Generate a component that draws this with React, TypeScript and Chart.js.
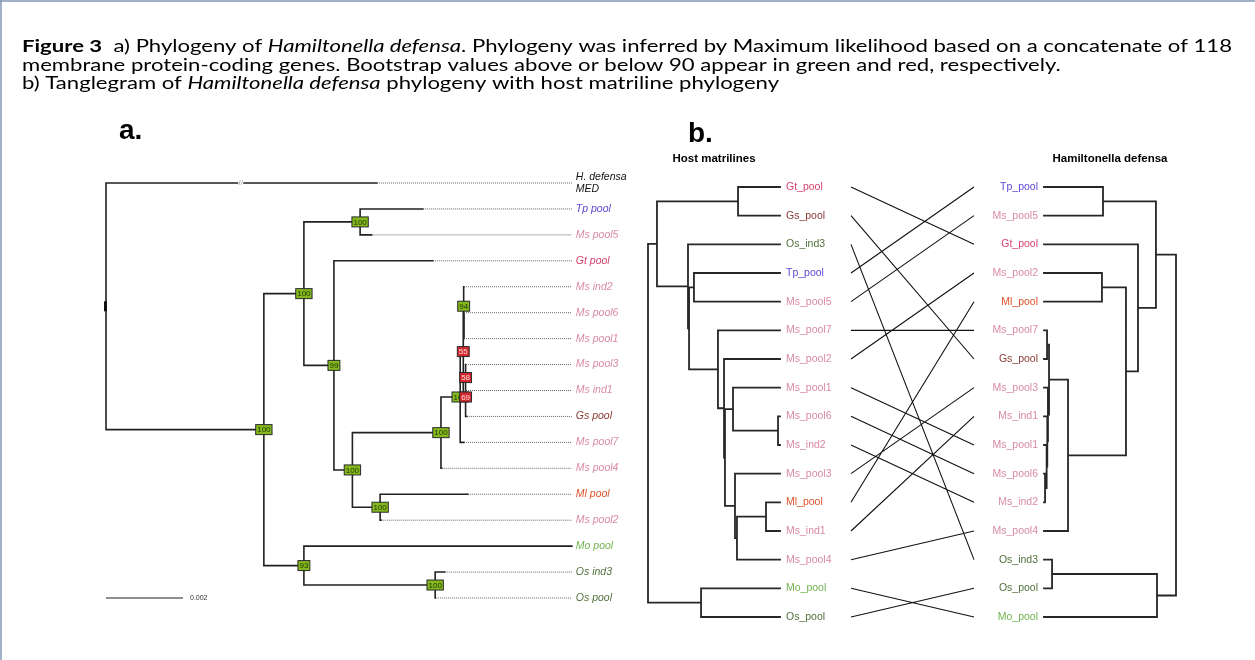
import React, { useEffect, useRef } from 'react';
import { Chart, registerables } from 'chart.js';
Chart.register(...registerables);

const W = 1255;
const H = 660;

// ---------------- Panel a: ML phylogeny of Hamiltonella defensa ----------------
const aTipLabels = ['H. defensa|MED', 'Tp pool', 'Ms pool5', 'Gt pool', 'Ms ind2', 'Ms pool6', 'Ms pool1', 'Ms pool3', 'Ms ind1', 'Gs pool', 'Ms pool7', 'Ms pool4', 'Ml pool', 'Ms pool2', 'Mo pool', 'Os ind3', 'Os pool'];
const aTipDepths = [0.00704, 0.00823, 0.0069, 0.00849, 0.0093, 0.0093, 0.0093, 0.00935, 0.00935, 0.00938, 0.0093, 0.00872, 0.0094, 0.00715, 0.0121, 0.0088, 0.00857];
const aNodeNames = ['root', 'A', 'B', 'C', 'D', 'E', 'F', 'G', 'Hn', 'H2', 'H3', 'H7', 'H5', 'H6', 'J', 'K'];
const aNodeDepths = [0, 0.0041, 0.00514, 0.0066, 0.00592, 0.0064, 0.0087, 0.00712, 0.0092, 0.00928, 0.00929, 0.0093, 0.00934, 0.00934, 0.00514, 0.00855];
const aNodeChildren = [
  ['H. defensa|MED', 'A'], ['B', 'J'], ['C', 'D'], ['Tp pool', 'Ms pool5'], ['Gt pool', 'E'], ['F', 'G'],
  ['Hn', 'Ms pool4'], ['Ml pool', 'Ms pool2'], ['H2', 'Ms pool7'], ['H3', 'H5'], ['Ms ind2', 'H7'],
  ['Ms pool6', 'Ms pool1'], ['H6', 'Gs pool'], ['Ms pool3', 'Ms ind1'], ['Mo pool', 'K'], ['Os ind3', 'Os pool'],
];
const aBootstrap = [null, 100, 100, 100, 99, 100, 100, 100, 100, 55, 94, null, 69, 58, 93, 100];
const aLabelAlignDepth = 0.0121;
const aBreakMarkDepth = 0.0035;
const aScaleBarLength = 0.002;
const aScaleBarLabel = '0.002';

// ---------------- Panel b: tanglegram ----------------
const hostTips = ['Gt_pool', 'Gs_pool', 'Os_ind3', 'Tp_pool', 'Ms_pool5', 'Ms_pool7', 'Ms_pool2', 'Ms_pool1', 'Ms_pool6', 'Ms_ind2', 'Ms_pool3', 'Ml_pool', 'Ms_ind1', 'Ms_pool4', 'Mo_pool', 'Os_pool'];
const hostNodeNames = ['root', 'P', 'Q', 'R', 'S', 'S2', 'T', 'U', 'N', 'N2', 'X', 'X2', 'Y', 'Y2', 'Y3'];
const hostNodeHeights = [1, 0.932, 0.598, 0.318, 0.697, 0.689, 0.652, 0.47, 0.424, 0.417, 0.356, 0.015, 0.341, 0.326, 0.106];
const hostNodeChildren = [
  ['P', 'Q'], ['R', 'S'], ['Mo_pool', 'Os_pool'], ['Gt_pool', 'Gs_pool'], ['Os_ind3', 'S2'], ['T', 'U'],
  ['Tp_pool', 'Ms_pool5'], ['Ms_pool7', 'N'], ['Ms_pool2', 'N2'], ['X', 'Y'], ['Ms_pool1', 'X2'],
  ['Ms_pool6', 'Ms_ind2'], ['Ms_pool3', 'Y2'], ['Y3', 'Ms_pool4'], ['Ml_pool', 'Ms_ind1'],
];

const symTips = ['Tp_pool', 'Ms_pool5', 'Gt_pool', 'Ms_pool2', 'Ml_pool', 'Ms_pool7', 'Gs_pool', 'Ms_pool3', 'Ms_ind1', 'Ms_pool1', 'Ms_pool6', 'Ms_ind2', 'Ms_pool4', 'Os_ind3', 'Os_pool', 'Mo_pool'];
const symNodeNames = ['root', 'A1', 'TM', 'G1', 'G2', 'MM', 'G3', 'C1', 'Cg', 'Ch', 'Ci', 'Cj', 'Ck', 'B1', 'OO'];
const symNodeHeights = [1, 0.848, 0.447, 0.712, 0.621, 0.439, 0.182, 0.038, 0.023, 0.03, 0.025, 0.02, 0.008, 0.856, 0.061];
const symNodeChildren = [
  ['A1', 'B1'], ['TM', 'G1'], ['Tp_pool', 'Ms_pool5'], ['Gt_pool', 'G2'], ['MM', 'G3'], ['Ms_pool2', 'Ml_pool'],
  ['C1', 'Ms_pool4'], ['Cg', 'Ch'], ['Ms_pool7', 'Gs_pool'], ['Ms_pool3', 'Ci'], ['Ms_ind1', 'Cj'],
  ['Ms_pool1', 'Ck'], ['Ms_pool6', 'Ms_ind2'], ['OO', 'Mo_pool'], ['Os_ind3', 'Os_pool'],
];

const hostTitle = 'Host matrilines';
const symTitle = 'Hamiltonella defensa';

const captionLines: [string, string][][] = [
  [['bold', 'Figure 3'], ['normal', '  a) Phylogeny of '], ['italic', 'Hamiltonella defensa'], ['normal', '. Phylogeny was inferred by Maximum likelihood based on a concatenate of 118']],
  [['normal', 'membrane protein-coding genes. Bootstrap values above or below 90 appear in green and red, respectively.']],
  [['normal', 'b) Tanglegram of '], ['italic', 'Hamiltonella defensa'], ['normal', ' phylogeny with host matriline phylogeny']],
];

const speciesColors: [string, string][] = [
  ['Ms', '#d98aa8'], ['Gt', '#d6416d'], ['Gs', '#8a3a34'], ['Tp', '#6146d6'],
  ['Ml', '#e0512a'], ['Mo', '#72b24f'], ['Os', '#51703b'], ['H.', '#111111'],
];
const colorOf = (name: string) => {
  const f = speciesColors.find(([p]) => name.startsWith(p));
  return f ? f[1] : '#000';
};

// ---------------- helpers ----------------
function nodeY(tips: string[], names: string[], children: string[][]) {
  const y: Record<string, number> = {};
  tips.forEach((t, i) => (y[t] = i));
  const resolve = (n: string): number => {
    if (y[n] !== undefined) return y[n];
    const k = names.indexOf(n);
    const ch = children[k];
    const v = (resolve(ch[0]) + resolve(ch[ch.length - 1])) / 2;
    y[n] = v;
    return v;
  };
  names.forEach(resolve);
  return y;
}

function treeSegments(tips: string[], tipX: number[], names: string[], nodeX: number[], children: string[][], y: Record<string, number>) {
  const xOf = (n: string) => {
    const t = tips.indexOf(n);
    return t >= 0 ? tipX[t] : nodeX[names.indexOf(n)];
  };
  const pts: { x: number; y: number }[] = [];
  const gap = { x: NaN, y: NaN };
  names.forEach((n, k) => {
    const ch = children[k];
    const x0 = nodeX[k];
    const ys = ch.map((c) => y[c]);
    pts.push({ x: x0, y: Math.min(...ys) }, { x: x0, y: Math.max(...ys) }, gap);
    ch.forEach((c) => {
      pts.push({ x: x0, y: y[c] }, { x: xOf(c), y: y[c] }, gap);
    });
  });
  return pts;
}

function fit(v1: number, p1: number, v2: number, p2: number, size: number, isY: boolean) {
  const k = (p2 - p1) / (v2 - v1);
  const a = Math.abs(k);
  const inc = k > 0;
  let min: number, max: number;
  if (inc) { min = v1 - p1 / a; max = min + size / a; }
  else { max = v1 + p1 / a; min = max - size / a; }
  return { type: 'linear' as const, display: false, min, max, reverse: isY ? inc : !inc, grid: { display: false }, ticks: { display: false } };
}

const lineDs = (label: string, data: any[], xAxisID: string, yAxisID: string, color: string, width: number, dash: number[] = [], cap = 'square') => ({
  label, data, xAxisID, yAxisID, showLine: true, borderColor: color, backgroundColor: color,
  borderWidth: width, borderDash: dash, pointRadius: 0, pointHoverRadius: 0, spanGaps: false,
  borderCapStyle: cap, fill: false, clip: false as any,
});

export default function App() {
  const ref = useRef<HTMLCanvasElement>(null);
  useEffect(() => {
    document.body.style.margin = '0';
    const canvas = ref.current!;

    // panel a geometry
    const aY = nodeY(aTipLabels, aNodeNames, aNodeChildren);
    const aSolid = treeSegments(aTipLabels, aTipDepths, aNodeNames, aNodeDepths, aNodeChildren, aY);
    const aDotted: any[] = [];
    aTipLabels.forEach((t, i) => {
      if (aTipDepths[i] < aLabelAlignDepth - 1e-6) aDotted.push({ x: aTipDepths[i], y: i }, { x: aLabelAlignDepth, y: i }, { x: NaN, y: NaN });
    });
    const scaleBar = [{ x: 0, y: aTipLabels.length - 1 }, { x: aScaleBarLength, y: aTipLabels.length - 1 }];

    // panel b geometry
    const hY = nodeY(hostTips, hostNodeNames, hostNodeChildren);
    const hSeg = treeSegments(hostTips, hostTips.map(() => 0), hostNodeNames, hostNodeHeights, hostNodeChildren, hY);
    const sY = nodeY(symTips, symNodeNames, symNodeChildren);
    const sSeg = treeSegments(symTips, symTips.map(() => 0), symNodeNames, symNodeHeights, symNodeChildren, sY);
    const links: any[] = [];
    hostTips.forEach((t, i) => {
      const j = symTips.indexOf(t);
      links.push({ x: 0, y: i }, { x: 1, y: j }, { x: NaN, y: NaN });
    });

    const textPlugin = {
      id: 'figureText',
      beforeDraw(chart: any) {
        const ctx = chart.ctx;
        ctx.save();
        ctx.fillStyle = '#ffffff';
        ctx.fillRect(0, 0, W, H);
        ctx.strokeStyle = '#8398b8';
        ctx.lineWidth = 1.5;
        ctx.beginPath();
        ctx.moveTo(0, 1); ctx.lineTo(W, 1);
        ctx.moveTo(1, 0); ctx.lineTo(1, H);
        ctx.stroke();
        ctx.restore();
      },
      afterDatasetsDraw(chart: any) {
        const ctx = chart.ctx;
        const s = chart.scales;
        ctx.save();
        // caption
        const cs = 17;
        const fam = 'Lato, "Open Sans", sans-serif';
        const widthOf = (runs: [string, string][]) => runs.reduce((w, [st, tx]) => { ctx.font = `${st} ${cs}px ${fam}`; return w + ctx.measureText(tx).width; }, 0);
        const sx = 1210 / widthOf(captionLines[0]);
        const baselines = [52, 70.5, 89];
        ctx.fillStyle = '#000';
        ctx.textBaseline = 'alphabetic';
        ctx.textAlign = 'left';
        captionLines.forEach((runs, li) => {
          ctx.save();
          ctx.translate(22, baselines[li]);
          ctx.scale(sx, 1);
          let cx = 0;
          runs.forEach(([st, tx]) => {
            ctx.font = `${st} ${cs}px ${fam}`;
            ctx.fillText(tx, cx, 0);
            cx += ctx.measureText(tx).width;
          });
          ctx.restore();
        });

        // panel letters
        ctx.font = 'bold 28px "Liberation Sans", Arial, sans-serif';
        ctx.fillText('a.', 119, 139);
        ctx.fillText('b.', 688, 142);

        // panel a: tip labels
        const xa = s.xa, ya = s.ya;
        ctx.textBaseline = 'middle';
        ctx.font = 'italic 10.5px "Liberation Sans", Arial, sans-serif';
        aTipLabels.forEach((t, i) => {
          const px = xa.getPixelForValue(aLabelAlignDepth) + 4;
          const py = ya.getPixelForValue(i);
          ctx.fillStyle = colorOf(t);
          const parts = t.split('|');
          if (parts.length === 2) {
            ctx.fillText(parts[0], px, py - 5.5);
            ctx.fillText(parts[1], px, py + 6.5);
          } else ctx.fillText(t, px, py);
        });
        // break mark on the long branch
        {
          const px = xa.getPixelForValue(aBreakMarkDepth);
          const py = ya.getPixelForValue(0);
          ctx.fillStyle = '#fff';
          ctx.fillRect(px - 2.5, py - 2, 5, 4);
          ctx.fillStyle = '#999';
          ctx.font = '8px "Liberation Sans", Arial, sans-serif';
          ctx.textAlign = 'center';
          ctx.fillText('//', px, py);
        }
        // root marker
        {
          const px = xa.getPixelForValue(0);
          const py = ya.getPixelForValue(aY['root']);
          ctx.fillStyle = '#111';
          ctx.fillRect(px - 2, py - 5, 3, 10);
        }
        // bootstrap boxes
        ctx.font = '8px "Liberation Sans", Arial, sans-serif';
        ctx.textAlign = 'center';
        aNodeNames.forEach((n, k) => {
          const b = aBootstrap[k];
          if (b == null) return;
          const px = xa.getPixelForValue(aNodeDepths[k]);
          const py = ya.getPixelForValue(aY[n]);
          const tx = String(b);
          const bw = ctx.measureText(tx).width + 3;
          const bh = 10;
          const good = b >= 90;
          ctx.fillStyle = good ? '#84b81c' : '#d2282e';
          ctx.fillRect(px - bw / 2, py - bh / 2, bw, bh);
          ctx.strokeStyle = '#2b2b2b';
          ctx.lineWidth = 1;
          ctx.strokeRect(px - bw / 2, py - bh / 2, bw, bh);
          ctx.fillStyle = good ? '#1e3306' : '#ffd9d9';
          ctx.fillText(tx, px, py + 0.5);
        });
        // scale bar label
        ctx.textAlign = 'left';
        ctx.fillStyle = '#333';
        ctx.font = '7px "Liberation Sans", Arial, sans-serif';
        ctx.fillText(aScaleBarLabel, xa.getPixelForValue(aScaleBarLength) + 7, ya.getPixelForValue(aTipLabels.length - 1));

        // panel b labels
        const xh = s.xh, xs = s.xs, yb = s.yb;
        ctx.font = '10.5px "Liberation Sans", Arial, sans-serif';
        ctx.textAlign = 'left';
        hostTips.forEach((t, i) => {
          ctx.fillStyle = colorOf(t);
          ctx.fillText(t, xh.getPixelForValue(0) + 6, yb.getPixelForValue(i));
        });
        ctx.textAlign = 'right';
        symTips.forEach((t, i) => {
          ctx.fillStyle = colorOf(t);
          ctx.fillText(t, xs.getPixelForValue(0) - 6, yb.getPixelForValue(i));
        });
        ctx.fillStyle = '#000';
        ctx.textAlign = 'center';
        ctx.textBaseline = 'alphabetic';
        ctx.font = 'bold 11.5px "Liberation Sans", Arial, sans-serif';
        ctx.fillText(hostTitle, 714, 162);
        ctx.fillText(symTitle, 1110, 162);
        ctx.restore();
      },
    };

    const chart = new Chart(canvas, {
      type: 'scatter',
      data: {
        datasets: [
          lineDs('a-dotted', aDotted, 'xa', 'ya', '#666666', 1, [1, 1], 'butt'),
          lineDs('a-tree', aSolid, 'xa', 'ya', '#222222', 1.6),
          lineDs('a-scalebar', scaleBar, 'xa', 'ya', '#222222', 1.2, [], 'butt'),
          lineDs('host-tree', hSeg, 'xh', 'yb', '#262626', 1.8),
          lineDs('sym-tree', sSeg, 'xs', 'yb', '#262626', 1.8),
          lineDs('links', links, 'xt', 'yb', '#111111', 1.1, [], 'butt'),
        ] as any,
      },
      options: {
        animation: false,
        responsive: false,
        events: [],
        layout: { padding: 0 },
        plugins: { legend: { display: false }, tooltip: { enabled: false }, title: { display: false } },
        scales: {
          xa: fit(0, 106, 0.002, 183, W, false),
          ya: fit(0, 183, 16, 598, H, true),
          xh: fit(0, 780, 1, 648, W, false),
          xs: fit(0, 1044, 1, 1176, W, false),
          xt: fit(0, 851, 1, 974, W, false),
          yb: fit(0, 187, 15, 617, H, true),
        } as any,
      },
      plugins: [textPlugin],
    });
    return () => chart.destroy();
  }, []);

  return (
    <div style={{ width: W, height: H, position: 'relative', overflow: 'hidden', background: '#fff' }}>
      <canvas ref={ref} width={W} height={H} style={{ display: 'block', width: W, height: H }} />
    </div>
  );
}
